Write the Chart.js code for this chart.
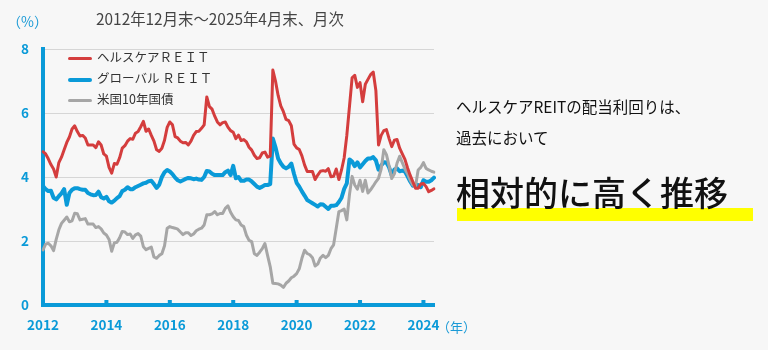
<!DOCTYPE html>
<html lang="ja">
<head>
<meta charset="utf-8">
<script src="https://cdn.jsdelivr.net/npm/chart.js@4.4.1/dist/chart.umd.min.js"></script>
<style>
  html, body { margin: 0; padding: 0; background: #f7f7f7; }
  #wrap { position: relative; width: 768px; height: 350px; overflow: hidden; font-family: "Noto Sans CJK JP", "Noto Sans", sans-serif; }
  #grafico { position: absolute; left: 0; top: 0; }
  .txt { position: absolute; white-space: nowrap; }
  #titulo { left: 96px; top: 7px; font-size: 15.4px; color: #444; }
  #unidade { left: 7px; top: 11px; font-size: 14px; color: #1a9ad6; }
  #ano { left: 437px; top: 317px; font-size: 13px; color: #1a9ad6; }
  .leg { position: absolute; left: 68px; font-size: 12.5px; color: #333; height: 20px; line-height: 20px; }
  .leg i { display: inline-block; width: 24px; vertical-align: middle; margin-right: 5px; border-radius: 2px; }
  #msg1 { left: 456px; top: 95px; font-size: 15.5px; color: #111; }
  #msg2 { left: 456px; top: 126px; font-size: 15.5px; color: #111; }
  #faixa { position: absolute; left: 457px; top: 208px; width: 296px; height: 13px; background: #ffff00; }
  #msg3 { left: 456px; top: 170px; font-size: 34px; line-height: 44px; color: #111; font-weight: 500; }
</style>
</head>
<body>
<div id="wrap">
  <canvas id="grafico" width="768" height="350"></canvas>
  <div class="txt" id="titulo">2012年12月末～2025年4月末、月次</div>
  <div class="txt" id="unidade">（%）</div>
  <div class="txt" id="ano">（年）</div>
  <div class="leg" style="top:47px"><i style="height:3px;background:#d43d3d"></i>ヘルスケアＲＥＩＴ</div>
  <div class="leg" style="top:68px"><i style="height:4px;background:#0a9ad8"></i>グローバル ＲＥＩＴ</div>
  <div class="leg" style="top:89px"><i style="height:3px;background:#a6a6a6"></i>米国10年国債</div>
  <div class="txt" id="msg1">ヘルスケアREITの配当利回りは、</div>
  <div class="txt" id="msg2">過去において</div>
  <div id="faixa"></div>
  <div class="txt" id="msg3">相対的に高く推移</div>
</div>
<script>
// dados mensais, dez/2012 a abr/2025
const healthcare = [4.79,4.72,4.57,4.39,4.25,4.0,4.45,4.62,4.85,5.08,
  5.25,5.5,5.6,5.42,5.28,5.3,5.22,5.0,5.0,5.0,
  4.92,5.1,5.0,4.72,4.65,4.3,4.12,4.42,4.4,4.6,
  4.9,4.98,5.12,5.2,5.18,5.37,5.42,5.57,5.74,5.43,
  5.5,5.3,5.12,4.85,4.8,4.9,5.15,5.55,5.72,5.63,
  5.26,5.22,5.12,5.07,5.08,5.0,5.12,5.3,5.42,5.43,
  5.52,5.63,6.5,6.2,6.12,5.9,5.72,5.63,5.7,5.72,
  5.56,5.45,5.4,5.2,5.31,5.14,5.17,5.1,4.93,4.84,
  4.68,4.58,4.6,4.75,4.78,4.62,4.65,7.34,7.0,6.55,
  6.22,6.04,5.8,5.76,5.6,5.03,4.91,4.86,4.66,4.38,
  4.17,4.17,4.17,3.92,4.06,4.18,4.2,4.18,4.26,4.01,
  4.02,4.25,3.92,4.22,4.6,5.3,6.2,7.1,7.18,6.8,
  6.95,6.35,6.9,7.05,7.2,7.28,6.7,5.0,5.3,5.45,
  5.48,5.2,4.95,5.15,5.17,4.9,4.72,4.55,4.28,4.05,
  3.85,3.65,3.65,3.78,3.8,3.7,3.54,3.58,3.63];

const globalReit = [3.72,3.62,3.56,3.57,3.35,3.3,3.4,3.49,3.62,3.13,
  3.5,3.6,3.65,3.65,3.62,3.6,3.6,3.5,3.46,3.43,
  3.44,3.54,3.37,3.33,3.38,3.24,3.2,3.26,3.34,3.4,
  3.56,3.6,3.68,3.62,3.62,3.68,3.72,3.76,3.8,3.82,
  3.87,3.88,3.78,3.66,3.76,4.0,4.15,4.22,4.17,4.09,
  3.98,3.9,3.86,3.9,3.94,3.97,3.96,3.93,3.95,3.92,
  3.91,4.0,4.19,4.17,4.1,4.06,4.06,4.06,4.06,4.15,
  4.2,4.06,4.35,3.96,4.0,3.88,3.88,3.92,3.92,3.86,
  3.78,3.7,3.66,3.7,3.75,3.75,3.78,5.2,4.93,4.58,
  4.43,4.32,4.27,4.32,4.42,4.1,3.82,3.7,3.55,3.42,
  3.28,3.23,3.18,3.13,3.08,3.15,3.14,3.07,3.0,3.1,
  3.1,3.12,3.22,3.35,3.63,3.8,4.55,4.48,4.34,4.46,
  4.3,4.4,4.5,4.58,4.58,4.62,4.52,4.23,4.36,4.46,
  4.45,4.3,4.05,4.23,4.27,4.18,4.2,4.17,4.02,3.86,
  3.73,3.76,3.75,3.68,3.9,3.85,3.85,3.9,3.98];

const treasury10y = [1.72,1.9,1.93,1.85,1.7,2.05,2.35,2.55,2.65,2.75,
  2.6,2.63,2.87,2.85,2.66,2.68,2.7,2.53,2.53,2.53,
  2.42,2.45,2.38,2.25,2.19,2.05,1.68,1.94,1.96,2.1,
  2.3,2.28,2.2,2.22,2.08,2.19,2.23,2.15,1.82,1.73,
  1.77,1.81,1.5,1.46,1.55,1.6,1.85,2.4,2.45,2.42,
  2.4,2.37,2.28,2.2,2.26,2.26,2.17,2.22,2.32,2.37,
  2.4,2.5,2.82,2.82,2.85,2.92,2.82,2.86,2.86,3.02,
  3.1,2.9,2.76,2.66,2.64,2.5,2.45,2.18,2.02,1.98,
  1.6,1.55,1.65,1.76,1.92,1.55,1.2,0.68,0.67,0.66,
  0.62,0.55,0.68,0.75,0.85,0.9,0.98,1.13,1.46,1.71,
  1.61,1.57,1.48,1.22,1.28,1.47,1.55,1.48,1.55,1.76,
  1.88,2.4,2.92,2.95,3.0,2.66,3.45,4.02,3.75,3.62,
  3.9,3.55,3.9,3.5,3.6,3.72,3.85,3.96,4.25,4.85,
  4.7,4.35,3.95,4.1,4.43,4.65,4.45,4.25,4.1,3.9,
  3.75,3.7,4.22,4.3,4.45,4.27,4.22,4.18,4.15];

const anosEixo = ['2012', '2014', '2016', '2018', '2020', '2022', '2024'];
const passoTicks = 24; // um rotulo a cada 2 anos
const yTicks = [0, 2, 4, 6, 8];

// rotulos mensais
const meses = [];
for (let i = 0; i < healthcare.length; i++) {
    const m = (11 + i) % 12 + 1;
    const a = 2012 + Math.floor((11 + i) / 12);
    meses.push(a + '/' + m);
}

const azul = '#0a9ad8';

// pequenos tracos no eixo x
const tracosX = {
    id: 'tracosX',
    afterDraw(chart) {
        const ctx = chart.ctx;
        const x = chart.scales.x;
        const fundo = chart.chartArea.bottom;
        ctx.save();
        ctx.fillStyle = azul;
        for (let i = 0; i < meses.length; i += passoTicks) {
            const px = x.getPixelForValue(i);
            ctx.fillRect(px - 2, fundo - 5, 4, 5);
        }
        ctx.restore();
    }
};

const ctx = document.getElementById('grafico').getContext('2d');
new Chart(ctx, {
    type: 'line',
    data: {
        labels: meses,
        datasets: [
            { label: 'ヘルスケアＲＥＩＴ', data: healthcare, borderColor: '#d43d3d', borderWidth: 3, order: 0 },
            { label: '米国10年国債', data: treasury10y, borderColor: '#a6a6a6', borderWidth: 3, order: 1 },
            { label: 'グローバル ＲＥＩＴ', data: globalReit, borderColor: azul, borderWidth: 4, order: 2 }
        ]
    },
    options: {
        responsive: false,
        animation: false,
        events: [],
        elements: {
            point: { radius: 0 },
            line: { tension: 0, borderJoinStyle: 'round', borderCapStyle: 'round' }
        },
        layout: { padding: { left: 0, right: 334, top: 49, bottom: 15 } },
        plugins: { legend: { display: false }, tooltip: { enabled: false } },
        scales: {
            x: {
                type: 'category',
                offset: false,
                grid: { display: false, drawTicks: false },
                border: { display: true, color: azul, width: 4 },
                ticks: {
                    autoSkip: false,
                    maxRotation: 0,
                    padding: 12,
                    color: azul,
                    font: { family: '"Noto Sans CJK JP", sans-serif', size: 13.5, weight: 'bold' },
                    callback: (v, i) => (i % passoTicks === 0 ? anosEixo[i / passoTicks] : '')
                },
                afterFit: s => { s.height = 30; }
            },
            y: {
                min: 0,
                max: 8,
                afterBuildTicks: s => { s.ticks = yTicks.map(v => ({ value: v })); },
                grid: { color: '#d6d6d6', lineWidth: 1, drawTicks: false },
                border: { display: true, color: azul, width: 4 },
                ticks: {
                    padding: 14,
                    color: azul,
                    font: { family: '"Noto Sans CJK JP", sans-serif', size: 13.5, weight: 'bold' }
                },
                afterFit: s => { s.width = 43; }
            }
        }
    },
    plugins: [tracosX]
});
</script>
</body>
</html>
